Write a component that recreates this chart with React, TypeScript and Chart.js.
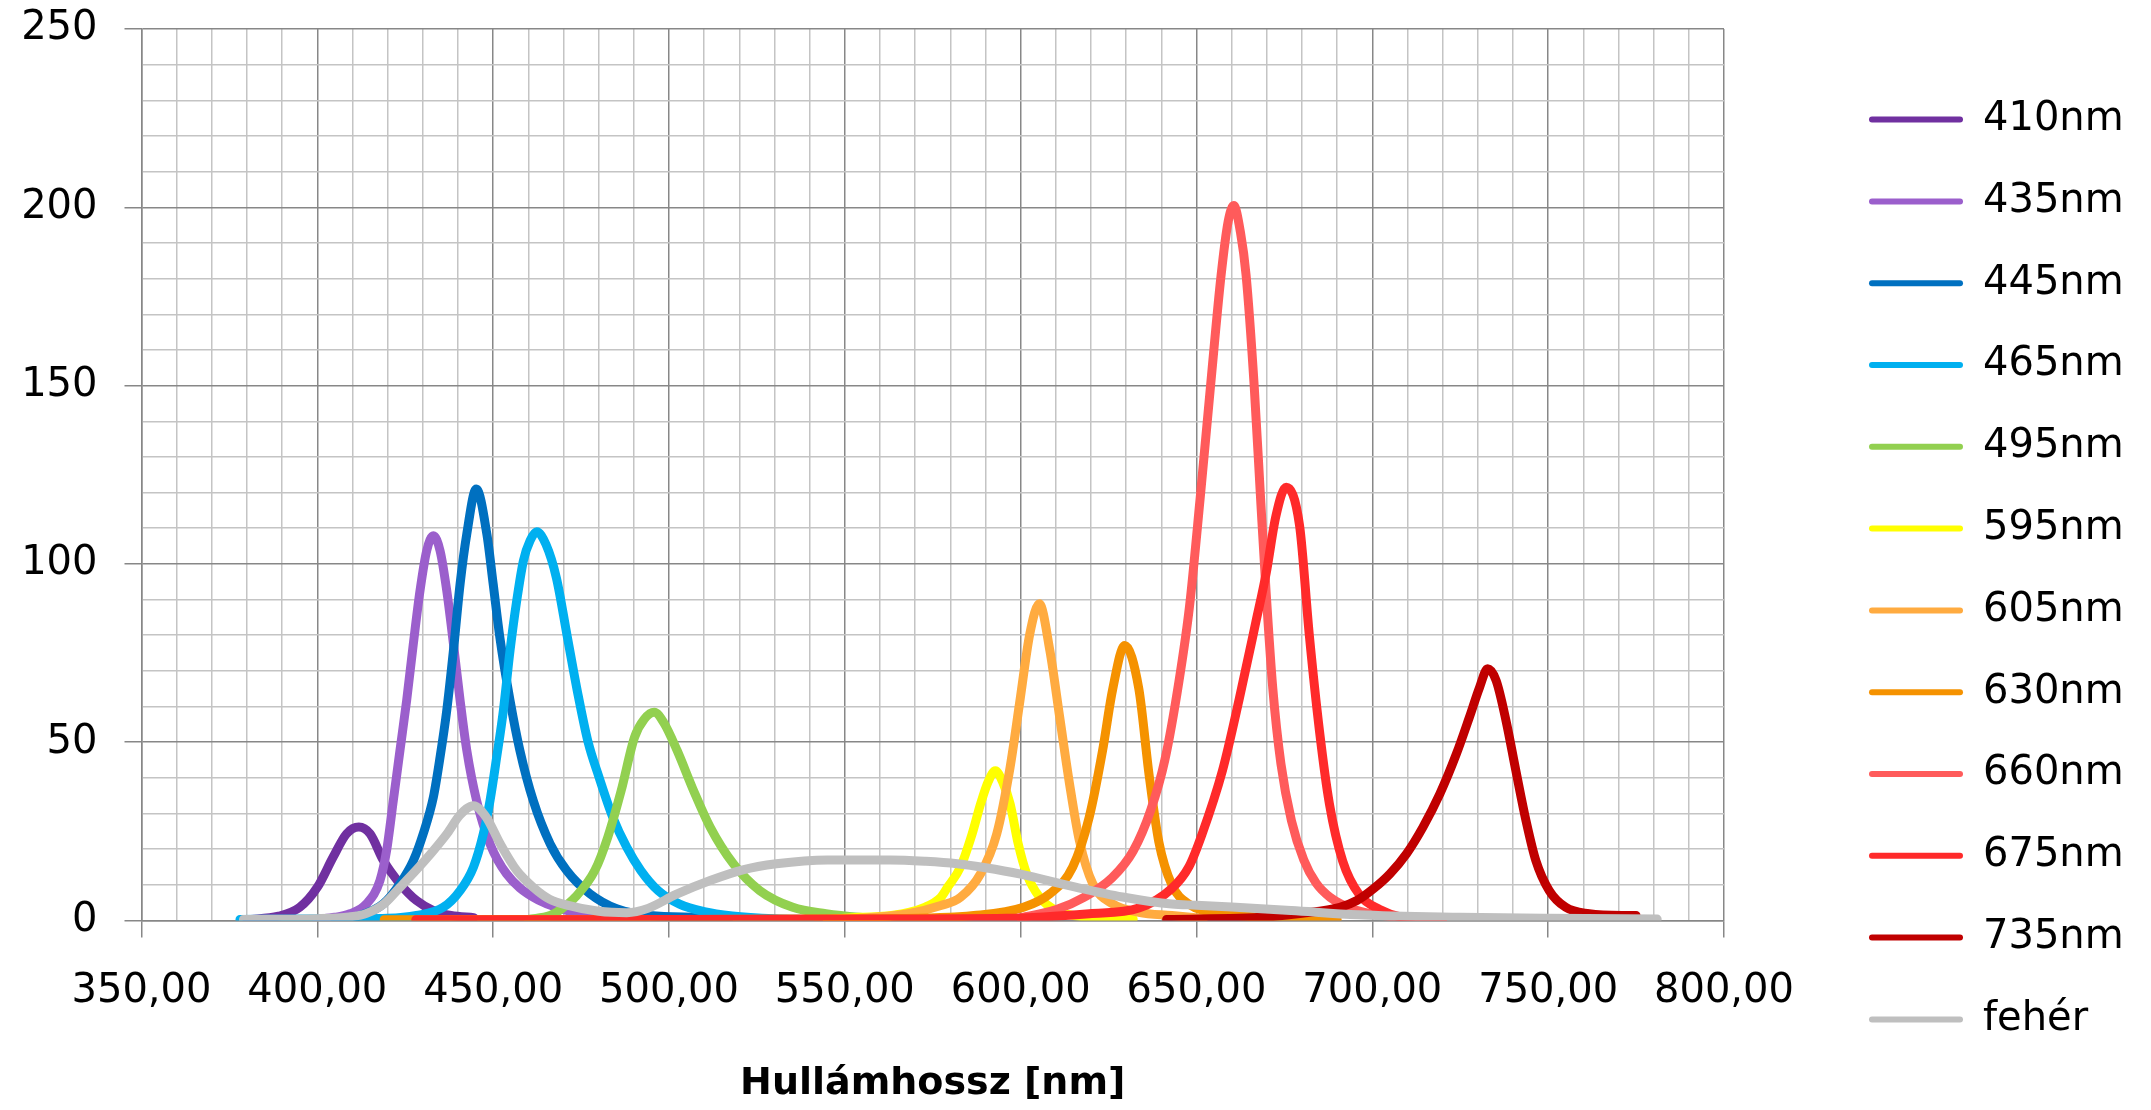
import { useEffect, useRef } from 'react';
import { Chart, registerables } from 'chart.js';

Chart.register(...registerables);

// ---- axis settings ----
const X_MIN = 350;
const X_MAX = 800;
const Y_MIN = 0;
const Y_MAX = 250;
const MINOR_STEP = 10;
const MAJOR_STEP = 50;
const X_TITLE = 'Hullámhossz [nm]';

// ---- series data (wavelength [nm] / intensity) ----
const wl410 = [380, 389, 395, 400, 404.5, 408.3, 411.8, 415, 418.8, 423.5, 428.2, 433, 438, 444.5];
const v410 = [0.2, 1.2, 3.7, 9.3, 17.8, 24.3, 26.2, 24.3, 16.8, 10.3, 5.6, 2.8, 1.4, 0.8];

const wl435 = [400, 405, 409.3, 414, 417.8, 419.7, 421.6, 423.5, 425.4, 427.3, 429.2, 431.1, 433, 434.9, 436.8, 438.7, 440.6, 442.5, 445.3, 449.1, 453.8, 461.4, 470.9, 480];
const v435 = [0.3, 0.9, 1.9, 4.7, 11.2, 19.6, 33.6, 47.7, 61.7, 77.6, 92.5, 103.7, 107.9, 103.7, 92.5, 77.6, 61.7, 47.7, 33.6, 21.5, 13.1, 6.5, 2.8, 1.2];

const wl445 = [405, 412.1, 418.8, 423.5, 427.3, 430.1, 433, 434.9, 436.8, 438.7, 440.6, 442.5, 445.2, 448.2, 450, 451.9, 454.8, 457.6, 461.4, 466.2, 470.9, 477.5, 485.1, 494.6, 508.8, 517];
const v445 = [0.3, 1.4, 4.7, 10.3, 16.8, 24.3, 34.6, 45.8, 58.9, 75.7, 94.4, 108.4, 121, 108.4, 94.4, 79.4, 61.7, 47.7, 33.6, 21.5, 14, 7.5, 3.3, 1.4, 0.9, 0.5];

const wl465 = [378, 398, 420, 428.2, 435.8, 440.6, 444.4, 447.2, 449.1, 451, 452.9, 454.8, 456.7, 458.6, 460.5, 462.4, 465, 468, 471, 474, 477, 480, 484, 488, 492, 497, 503, 510, 518, 530, 540];
const v465 = [0.3, 0.4, 0.6, 1.4, 3.7, 8.4, 15, 24.3, 33.6, 45.8, 58.9, 75.7, 89.7, 100.9, 106.5, 109, 105.5, 96, 80, 64, 50, 40.5, 29, 20.5, 14, 8.3, 4.6, 2.5, 1.3, 0.5, 0.3];

const wl495 = [460, 466.2, 469.5, 473.3, 478.9, 482.6, 486.4, 490.2, 493, 495.8, 498.5, 502.3, 507, 511.7, 518.3, 525.8, 535.2, 544.6, 554, 562];
const v495 = [0.3, 1.4, 3.3, 6.5, 14, 23.4, 36.4, 51.4, 56.5, 58.4, 55.5, 47.7, 36.4, 26.2, 15.9, 8.4, 3.7, 1.9, 0.9, 0.5];

const wl595 = [545, 554, 563.3, 572.7, 577.3, 579.2, 582.9, 586.2, 588.6, 590.8, 592.8, 594.8, 597, 599.3, 601.7, 605.4, 610.1, 619.5, 632];
const v595 = [0.3, 0.9, 1.4, 3.7, 6.5, 9.3, 15, 24.3, 32.7, 39, 42, 39, 32.7, 21.5, 13.1, 6.5, 2.8, 0.9, 0.4];

const wl605 = [550, 558.6, 568, 577.3, 582.9, 588.6, 593.2, 597, 599.8, 602.6, 605.3, 608.3, 611.1, 613.9, 616.7, 620.5, 626.1, 633.6, 643, 652];
const v605 = [0.3, 0.9, 1.9, 4.2, 6.5, 13.1, 24.3, 43, 61.7, 80.4, 88.8, 75.7, 57, 38.3, 22.4, 10.3, 4.7, 2.3, 1.4, 0.6];

const wl630 = [419, 500, 560, 586.7, 600.8, 608.3, 614.8, 619.5, 623.3, 626.1, 629.6, 633.6, 636.5, 639.3, 643, 648, 657, 667, 690];
const v630 = [0.2, 0.3, 0.5, 1.4, 3.7, 7.5, 15, 29, 47.7, 64.5, 77.1, 65, 41, 22, 10, 4.5, 2, 1, 0.3];

const wl660 = [600, 610, 618, 626, 632, 637, 641, 645, 648, 651, 654, 657, 659, 660.6, 662.5, 664.1, 666.4, 668.3, 669.8, 671.7, 674, 677, 680.5, 684, 688, 695, 705, 720];
const v660 = [0.8, 3, 6.5, 12, 19.5, 31, 45, 67, 88, 118, 150, 181, 196, 200.5, 193, 181, 150, 117, 92, 65, 44, 28, 17, 10.5, 6.5, 3, 1.1, 0.4];

const wl675 = [428, 500, 560, 596, 619.5, 633.6, 643, 647.9, 651.5, 657.4, 662.2, 666.9, 669.8, 672.6, 675.5, 679.3, 682.1, 685, 687.8, 691.6, 696.4, 702.1, 707.8, 720];
const v675 = [0.2, 0.3, 0.4, 0.6, 1.9, 3.5, 9, 15.2, 24, 42.1, 62.3, 83.8, 97.3, 113.5, 121.5, 110.8, 79.8, 52.9, 32.7, 16.6, 7.1, 3.1, 1.1, 0.3];

const wl735 = [641.5, 670, 680, 690.8, 695.6, 700.3, 705, 709.7, 714.4, 719.2, 723.9, 727.6, 730.5, 732.8, 735.2, 738, 740.8, 743.7, 746.5, 750.3, 755, 761.6, 771, 775];
const v735 = [0.3, 1, 2, 3.7, 5.6, 8.9, 13.1, 18.7, 26.2, 35.5, 46.7, 57, 65.4, 70.6, 67.3, 56.1, 42.1, 28, 16.8, 8.4, 3.7, 1.9, 1.4, 1.4];

const wlWhite = [379, 400, 409, 414, 419, 423.5, 428, 433, 437, 440.5, 444.4, 448, 452, 456.7, 461.4, 466, 471, 480, 488, 494, 502, 511.7, 521, 530.5, 545, 563, 573, 582, 590, 600, 615, 629, 643, 650, 660, 677, 696, 725, 750, 781];
const vWhite = [0.3, 0.5, 1, 2, 4.7, 9.3, 14, 19.6, 24.5, 29.5, 32.2, 29, 21.5, 14, 9.3, 6, 4.3, 2.6, 2.2, 3.4, 7.3, 11.2, 14.2, 15.9, 17, 17, 16.6, 15.9, 14.8, 13, 9.5, 6.6, 4.6, 4.3, 3.8, 2.8, 1.6, 0.9, 0.6, 0.4];

const SERIES_LABELS = ['410nm', '435nm', '445nm', '465nm', '495nm', '595nm', '605nm', '630nm', '660nm', '675nm', '735nm', 'fehér'];
const SERIES_COLORS = ['#7030A0', '#9B5FCC', '#0070C0', '#00B0F0', '#92D050', '#FFFF00', '#FFAB40', '#F59200', '#FF5B5B', '#FF2A2A', '#C00000', '#BFBFBF'];
const SERIES_X = [wl410, wl435, wl445, wl465, wl495, wl595, wl605, wl630, wl660, wl675, wl735, wlWhite];
const SERIES_Y = [v410, v435, v445, v465, v495, v595, v605, v630, v660, v675, v735, vWhite];

const MAJOR = '#878787';
const MINOR = '#C4C4C4';
const FONT = 'DejaVu Sans';
const FONT_SIZE = 40;
const LINE_W = 9;

// layout (pixels)
const W = 2151;
const H = 1110;
const PLOT_LEFT = 141.5;
const PLOT_RIGHT = 1724;
const PLOT_TOP = 29;
const PLOT_BOTTOM = 920.5;
const LEG_PAD = 41.8;
const LEG_BOX_W = 94;
const LEG_BOX_X = 1869;

function stepTicks(min: number, max: number, step: number) {
  const out: { value: number }[] = [];
  for (let v = min; v <= max + 1e-9; v += step) out.push({ value: v });
  return out;
}

export default function App() {
  const ref = useRef<HTMLCanvasElement | null>(null);

  useEffect(() => {
    document.body.style.margin = '0';
    const canvas = ref.current;
    if (!canvas) return;
    const n = SERIES_LABELS.length;

    const mctx = document.createElement('canvas').getContext('2d') as CanvasRenderingContext2D;
    mctx.font = `${FONT_SIZE}px ${FONT}`;
    const textW = Math.max(...SERIES_LABELS.map((t) => mctx.measureText(t).width));
    const legendW = LEG_PAD + LEG_BOX_W + FONT_SIZE / 2 + textW + 10;
    const spacerW = LEG_BOX_X - LEG_PAD - PLOT_RIGHT;
    const padRight = Math.max(0, W - PLOT_RIGHT - spacerW - legendW);

    const datasets = SERIES_LABELS.map((label, i) => ({
      label,
      data: SERIES_X[i].map((x, j) => ({ x, y: SERIES_Y[i][j] })),
      borderColor: SERIES_COLORS[i],
      backgroundColor: SERIES_COLORS[i],
      borderWidth: LINE_W,
      pointRadius: 0,
      fill: false,
      cubicInterpolationMode: 'monotone' as const,
      borderCapStyle: 'round' as const,
      borderJoinStyle: 'round' as const,
      xAxisID: 'x',
      yAxisID: 'y',
      order: n - 1 - i,
    }));

    const isMajor = (c: any) => c && c.tick && Math.round(c.tick.value) % MAJOR_STEP === 0;

    const chart = new Chart(canvas, {
      type: 'line',
      data: { datasets },
      options: {
        animation: false,
        responsive: false,
        devicePixelRatio: 1,
        elements: {
          line: { borderWidth: LINE_W, borderCapStyle: 'round', borderJoinStyle: 'round' },
          point: { radius: 0 },
        },
        layout: { padding: { top: PLOT_TOP, right: padRight, bottom: 0, left: 0 } },
        plugins: {
          tooltip: { enabled: false },
          legend: {
            position: 'right',
            align: 'center',
            labels: {
              font: { family: FONT, size: FONT_SIZE },
              color: '#000',
              boxWidth: LEG_BOX_W,
              boxHeight: 6,
              padding: LEG_PAD,
              useBorderRadius: true,
              borderRadius: 3,
              generateLabels: (ch: any) =>
                ch.data.datasets.map((ds: any, i: number) => ({
                  text: ds.label,
                  fillStyle: ds.borderColor,
                  strokeStyle: ds.borderColor,
                  lineWidth: 0,
                  hidden: false,
                  datasetIndex: i,
                  borderRadius: 3,
                })),
            },
          },
        },
        scales: {
          x: {
            type: 'linear',
            position: 'bottom',
            min: X_MIN,
            max: X_MAX,
            afterBuildTicks: (s: any) => {
              s.ticks = stepTicks(X_MIN, X_MAX, MINOR_STEP);
            },
            afterFit: (s: any) => {
              s.height = H - PLOT_BOTTOM;
              s.paddingLeft = 0;
              s.paddingRight = 0;
            },
            grid: {
              color: (c: any) => (isMajor(c) ? MAJOR : MINOR),
              lineWidth: 1.5,
              tickLength: 17,
              tickColor: (c: any) => (isMajor(c) ? MAJOR : 'rgba(0,0,0,0)'),
            },
            border: { color: MAJOR, width: 1.5 },
            ticks: {
              autoSkip: false,
              maxRotation: 0,
              minRotation: 0,
              padding: 30,
              color: '#000',
              font: { family: FONT, size: FONT_SIZE },
              callback: (v: any) => (Math.round(v) % MAJOR_STEP === 0 ? Number(v).toFixed(2).replace('.', ',') : ''),
            },
            title: {
              display: true,
              text: X_TITLE,
              color: '#000',
              font: { family: FONT, size: 38, weight: 'bold' },
              padding: { top: 0, bottom: 3 },
            },
          },
          y: {
            type: 'linear',
            position: 'left',
            min: Y_MIN,
            max: Y_MAX,
            afterBuildTicks: (s: any) => {
              s.ticks = stepTicks(Y_MIN, Y_MAX, MINOR_STEP);
            },
            afterFit: (s: any) => {
              s.width = PLOT_LEFT;
              s.paddingTop = 0;
              s.paddingBottom = 0;
            },
            grid: {
              color: (c: any) => (isMajor(c) ? MAJOR : MINOR),
              lineWidth: 1.5,
              tickLength: 17,
              tickColor: (c: any) => (isMajor(c) ? MAJOR : 'rgba(0,0,0,0)'),
            },
            border: { color: MAJOR, width: 1.5 },
            ticks: {
              autoSkip: false,
              padding: 27,
              color: '#000',
              font: { family: FONT, size: FONT_SIZE },
              callback: (v: any) => (Math.round(v) % MAJOR_STEP === 0 ? String(v) : ''),
            },
          },
          spacer: {
            type: 'linear',
            position: 'right',
            display: true,
            grid: { display: false },
            border: { display: false },
            ticks: { display: false },
            afterFit: (s: any) => {
              s.width = spacerW;
              s.paddingTop = 0;
              s.paddingBottom = 0;
            },
          },
        },
      } as any,
    });

    return () => {
      chart.destroy();
    };
  }, []);

  return (
    <div style={{ width: W, height: H, background: '#fff' }}>
      <canvas ref={ref} width={W} height={H} style={{ display: 'block' }} />
    </div>
  );
}
